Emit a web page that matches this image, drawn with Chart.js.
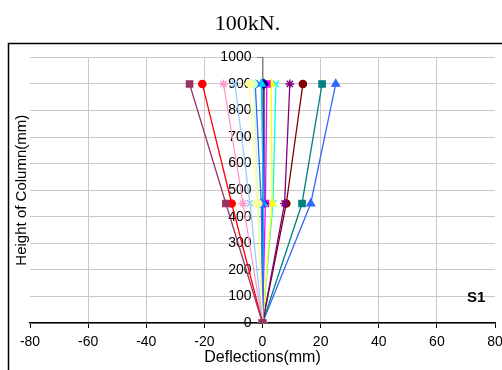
<!DOCTYPE html>
<html>
<head>
<meta charset="utf-8">
<script src="https://cdn.jsdelivr.net/npm/chart.js@4"></script>
<style>
  html, body { margin: 0; padding: 0; background: #fff; }
  canvas { display: block; }
</style>
</head>
<body>
<canvas id="chart" width="502" height="370"></canvas>
<script>
// column heights where deflection was measured (mm)
const heights = [0, 450, 900];

// deflections (mm) at heights 0 / 450 / 900, one array per gauge line
const s01 = [0, -12.6, -25.1];
const s02 = [0, -10.6, -20.7];
const s03 = [0, -6.7, -13.4];
const s04 = [0, -4.3, -9.5];
const s05 = [0, -1.8, -4.5];
const s06 = [0, -1.5, -3.0];
const s07 = [0, -0.4, -2.5];
const s08 = [0, 0.3, -0.4];
const s09 = [0, 0.2, 0.5];
const s10 = [0, 1.0, 1.5];
const s11 = [0, 3.3, 3.0];
const s12 = [0, 3.6, 4.6];
const s13 = [0, 7.6, 9.4];
const s14 = [0, 8.2, 13.9];
const s15 = [0, 13.6, 20.5];
const s16 = [0, 16.6, 25.2];
const allSeries = [s01, s02, s03, s04, s05, s06, s07, s08, s09, s10, s11, s12, s13, s14, s15, s16];

const xTicks = [-80, -60, -40, -20, 0, 20, 40, 60, 80];
const yTicks = [0, 100, 200, 300, 400, 500, 600, 700, 800, 900, 1000];

const seriesColors = ['#993366', '#FF0000', '#FF99CC', '#99CCFF', '#FFFF99', '#CCFFCC', '#3366FF', '#00CCFF',
                      '#000080', '#FF00FF', '#FFFF00', '#00FFFF', '#800080', '#800000', '#008080', '#3366FF'];
const seriesMarkers = ['rect', 'circle', 'star', 'crossRot', 'rectRot', 'circle', 'circle', 'triangle',
                       'rectRot', 'rect', 'triangle', 'crossRot', 'star', 'circle', 'rect', 'triangle'];

const font = 'Liberation Sans, Arial, sans-serif';

const datasets = allSeries.map((s, i) => ({
    label: 'L' + (i + 1),
    data: heights.map((h, k) => ({ x: s[k], y: h })),
    showLine: true,
    borderColor: seriesColors[i],
    backgroundColor: seriesColors[i],
    borderWidth: 1.3,
    pointStyle: seriesMarkers[i],
    pointRadius: seriesMarkers[i] === 'circle' ? 3.6 : 4.4,
    pointBorderWidth: 1.4,
    tension: 0
}));

// frame + S1 label
const framePlugin = {
    id: 'frame',
    beforeDraw(chart) {
        const c = chart.ctx;
        c.save();
        c.fillStyle = '#fff';
        c.fillRect(0, 0, chart.width, chart.height);
        c.strokeStyle = '#000';
        c.lineWidth = 1.5;
        c.strokeRect(8.5, 43.5, 600, 400);
        c.restore();
    },
    afterDraw(chart) {
        const c = chart.ctx;
        c.save();
        c.font = 'bold 15px ' + font;
        c.fillStyle = '#000';
        c.textAlign = 'center';
        c.textBaseline = 'middle';
        c.fillText('S1', chart.scales.x.getPixelForValue(73.5), chart.scales.y.getPixelForValue(95));
        c.restore();
    }
};

new Chart(document.getElementById('chart'), {
    type: 'scatter',
    data: { datasets: datasets },
    options: {
        responsive: false,
        animation: false,
        layout: { padding: { left: 0, right: 7, top: 0, bottom: 0 } },
        plugins: {
            legend: { display: false },
            tooltip: { enabled: false },
            title: {
                display: true,
                text: '100kN.',
                color: '#000',
                font: { family: 'Liberation Serif, Times New Roman, serif', size: 22, weight: 'normal' },
                padding: { top: 11, bottom: 20 }
            }
        },
        scales: {
            x: {
                type: 'linear',
                position: 'bottom',
                min: -80,
                max: 80,
                afterBuildTicks: s => { s.ticks = xTicks.map(v => ({ value: v })); },
                afterFit: s => { s.height = 47; s.paddingLeft = 0; s.paddingRight = 0; },
                grid: {
                    color: c => (c.tick && Math.abs(c.tick.value) === 80) ? 'rgba(0,0,0,0)' : '#c8c8c8',
                    tickColor: '#000',
                    tickLength: 5,
                    lineWidth: 1
                },
                border: { color: '#000', width: 1.5 },
                ticks: { color: '#000', font: { family: font, size: 14 }, padding: 6, maxRotation: 0 },
                title: {
                    display: true,
                    text: 'Deflections(mm)',
                    color: '#000',
                    font: { family: font, size: 16 },
                    padding: { top: 0, bottom: 3 }
                }
            },
            // x range is symmetric, so the centred axis sits on x = 0
            y: {
                type: 'linear',
                position: 'center',
                min: 0,
                max: 1000,
                afterBuildTicks: s => { s.ticks = yTicks.map(v => ({ value: v })); },
                grid: { color: '#c8c8c8', tickColor: '#808080', tickLength: 5, lineWidth: 1 },
                border: { color: '#808080', width: 1.5 },
                ticks: { color: '#000', font: { family: font, size: 14 }, padding: 6, callback: v => String(v) }
            },
            yt: {
                type: 'linear',
                position: 'left',
                afterFit: s => { s.width = 30; },
                grid: { display: false },
                border: { display: false },
                ticks: { display: false },
                title: {
                    display: true,
                    text: 'Height of Column(mm)',
                    color: '#000',
                    font: { family: font, size: 15 },
                    padding: { top: 13, bottom: 0 }
                }
            }
        }
    },
    plugins: [framePlugin]
});
</script>
</body>
</html>
